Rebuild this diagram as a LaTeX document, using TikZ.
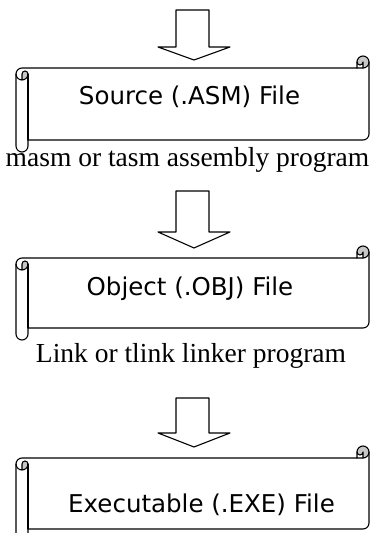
\documentclass[tikz,border=0pt]{standalone}
\usepackage{fontspec}
\setmainfont{Liberation Serif}
\newfontfamily\scrollfont{DejaVu Sans}
\usepackage{tikz}

\begin{document}
\begin{tikzpicture}[x=1pt, y=-1pt, line cap=round, line join=round, line width=1.1pt]

        \tikzset{label/.style = {font=\scrollfont\fontsize{24.5}{29}\selectfont, anchor=base, inner sep=0pt}}
        \tikzset{caption/.style = {font=\fontsize{27.5}{33}\selectfont, anchor=base, inner sep=0pt}}
        \tikzset{curl/.style = {fill=black!22}}

        % scroll: width, height
        \tikzset{pics/scrollbox/.style 2 args={code={
            \fill[curl] (6,24) arc[start angle=90, delta angle=-90, radius=6] arc[start angle=0, delta angle=-180, radius=3] -- cycle;
            \fill[curl] ({#1-6},12) arc[start angle=90, delta angle=-270, radius=6] arc[start angle=180, delta angle=-180, radius=3] -- cycle;
            \draw (0,18) arc[start angle=180, delta angle=90, radius=6] -- ({#1-12},12) -- ({#1-12},6)
                arc[start angle=180, delta angle=180, radius=6] -- (#1,{#2-18})
                arc[start angle=0, delta angle=90, radius=6] -- (12,{#2-12}) -- (12,{#2-6})
                arc[start angle=0, delta angle=180, radius=6] -- cycle;
            \draw ({#1-12},12) -- ({#1-6},12) arc[start angle=90, delta angle=-90, radius=6];
            \draw ({#1-6},12) -- ({#1-6},6) arc[start angle=0, delta angle=180, radius=3];
            \draw (6,24) -- (6,18) arc[start angle=180, delta angle=180, radius=3] arc[start angle=0, delta angle=180, radius=6];
            \draw (12,18) -- (12,{#2-12});
        }}}
        % block arrow: shaft length, head length
        \tikzset{pics/downarrow/.style 2 args={code={
            \draw (-18,0) -- (15,0) -- (15,#1) -- (36,#1) -- (0,{#1+#2}) -- (-36,#1) -- (-18,#1) -- cycle;
        }}}

        \clip (0,0) rectangle (370,533);

        \pic at (194,10) {downarrow={37}{13}};
        \pic at (16,56) {scrollbox={353}{96}};
        \node[label] (src) at (189.5,104.3) {Source (.ASM) File};
        \node[caption] (masm) at (187.5,166) {masm or tasm assembly program};

        \pic at (194,191) {downarrow={41}{16}};
        \pic at (16,246) {scrollbox={353}{94}};
        \node[label] (obj) at (190,295.7) {Object (.OBJ) File};
        \node[caption] (link) at (191,362) {Link or tlink linker program};

        \pic at (194,398) {downarrow={35}{14}};
        \pic at (16,446) {scrollbox={353}{95}};
        \node[label] (exe) at (201.5,512) {Executable (.EXE) File};
\end{tikzpicture}
\end{document}
